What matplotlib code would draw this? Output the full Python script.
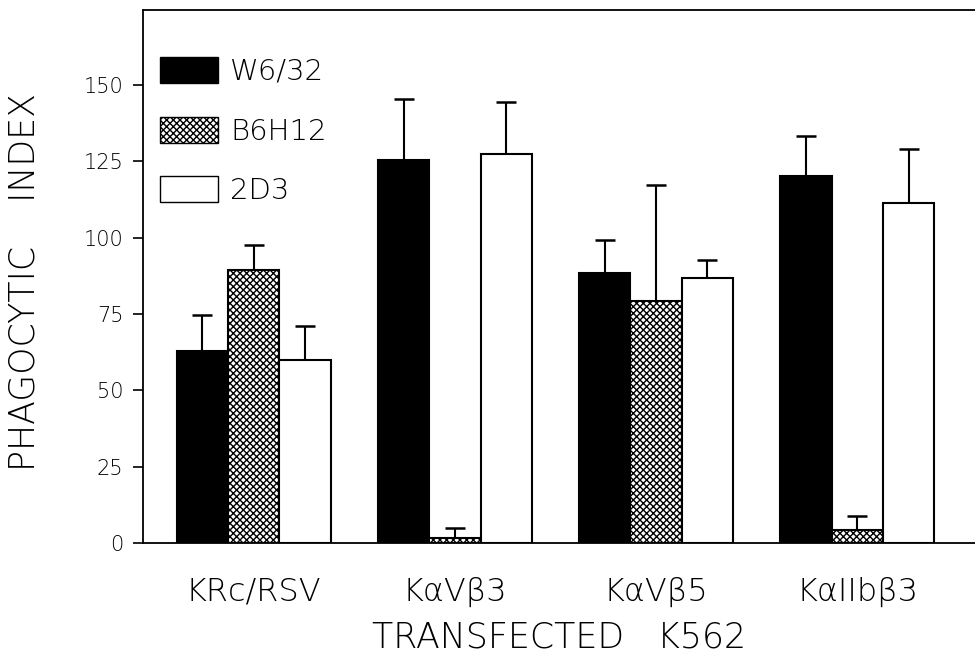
import numpy as np
import matplotlib.pyplot as plt
from matplotlib.patches import Patch

plt.rcParams['font.family'] = ['DejaVu Sans']
plt.rcParams['font.weight'] = 'light'
plt.rcParams['axes.labelweight'] = 'light'
plt.rcParams['hatch.linewidth'] = 1.0

# cell lines and antibody treatments
groups = ['KRc/RSV', 'KαVβ3', 'KαVβ5', 'KαIIbβ3']
series = ['W6/32', 'B6H12', '2D3']
w632 = [62.9, 125.5, 88.4, 120.3]
w632_err = [11.9, 20.0, 11.0, 13.0]
b6h12 = [89.5, 1.5, 79.3, 4.3]
b6h12_err = [8.2, 3.5, 38.0, 4.4]
d2d3 = [60.0, 127.4, 86.9, 111.3]
d2d3_err = [11.0, 17.0, 5.7, 17.8]
yticks = [0, 25, 50, 75, 100, 125, 150]

fig = plt.figure(figsize=(9.75, 6.53), dpi=100)
ax = fig.add_axes([0.1467, 0.1685, 0.8533, 0.8162])

x = np.arange(len(groups))
bw = 0.255
styles = [dict(color='black', edgecolor='black'),
          dict(color='white', edgecolor='black', hatch='xxxxx'),
          dict(color='white', edgecolor='black')]
vals = [w632, b6h12, d2d3]
errs = [w632_err, b6h12_err, d2d3_err]
for i in range(3):
    pos = x + (i - 1) * bw
    ax.bar(pos, vals[i], bw, linewidth=1.5, zorder=2, **styles[i])
    ax.errorbar(pos, vals[i], yerr=[np.zeros(4), errs[i]], fmt='none',
                ecolor='black', elinewidth=1.5, capsize=7, capthick=1.8, zorder=1)

ax.set_xlim(-0.549, 3.584)
ax.set_ylim(0, 174.6)
ax.set_yticks(yticks)
ax.set_yticklabels([str(t) for t in yticks], fontsize=15)
ax.set_xticks(x)
ax.set_xticklabels(groups, fontsize=23)
ax.tick_params(axis='x', length=0, pad=24)
ax.tick_params(axis='y', length=7, width=1.2, pad=7)
ax.spines['right'].set_visible(False)
for s in ['left', 'top', 'bottom']:
    ax.spines[s].set_linewidth(1.3)

ax.set_ylabel('PHAGOCYTIC    INDEX', fontsize=25, fontweight='light')
ax.yaxis.set_label_coords(-0.122, 0.49)
ax.set_xlabel('TRANSFECTED   K562', fontsize=25, fontweight='light', labelpad=10)

handles = [Patch(facecolor='black', edgecolor='black'),
           Patch(facecolor='white', edgecolor='black', hatch='xxxxx'),
           Patch(facecolor='white', edgecolor='black')]
ax.legend(handles, series, loc='upper left', bbox_to_anchor=(0.0204, 0.912),
          frameon=False, fontsize=21, handlelength=2.0, handleheight=1.0,
          labelspacing=1.05, handletextpad=0.4, borderaxespad=0, borderpad=0)

plt.savefig('out.png', dpi=100)
